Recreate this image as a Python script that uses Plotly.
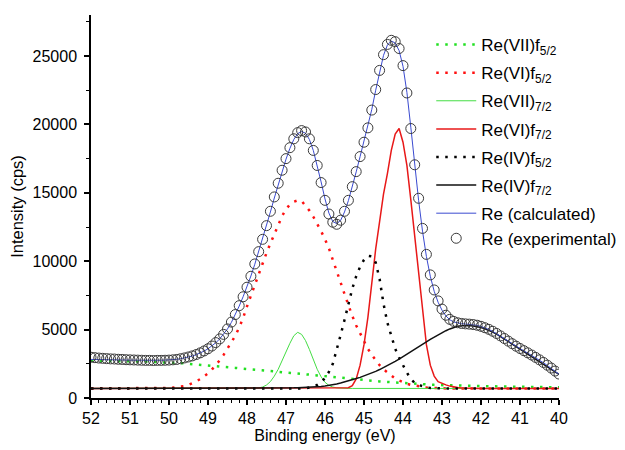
import plotly.graph_objects as go

# Binding energy grid (eV), 52.0 -> 40.0 in 0.1 eV steps
energy = [
    52.0, 51.9, 51.8, 51.7, 51.6, 51.5, 51.4, 51.3, 51.2, 51.1,
    51.0, 50.9, 50.8, 50.7, 50.6, 50.5, 50.4, 50.3, 50.2, 50.1,
    50.0, 49.9, 49.8, 49.7, 49.6, 49.5, 49.4, 49.3, 49.2, 49.1,
    49.0, 48.9, 48.8, 48.7, 48.6, 48.5, 48.4, 48.3, 48.2, 48.1,
    48.0, 47.9, 47.8, 47.7, 47.6, 47.5, 47.4, 47.3, 47.2, 47.1,
    47.0, 46.9, 46.8, 46.7, 46.6, 46.5, 46.4, 46.3, 46.2, 46.1,
    46.0, 45.9, 45.8, 45.7, 45.6, 45.5, 45.4, 45.3, 45.2, 45.1,
    45.0, 44.9, 44.8, 44.7, 44.6, 44.5, 44.4, 44.3, 44.2, 44.1,
    44.0, 43.9, 43.8, 43.7, 43.6, 43.5, 43.4, 43.3, 43.2, 43.1,
    43.0, 42.9, 42.8, 42.7, 42.6, 42.5, 42.4, 42.3, 42.2, 42.1,
    42.0, 41.9, 41.8, 41.7, 41.6, 41.5, 41.4, 41.3, 41.2, 41.1,
    41.0, 40.9, 40.8, 40.7, 40.6, 40.5, 40.4, 40.3, 40.2, 40.1,
    40.0,
]

re_experimental = [
    2980, 2950, 2920, 2900, 2880, 2860, 2850, 2830, 2820, 2800,
    2790, 2780, 2770, 2760, 2750, 2750, 2740, 2750, 2750, 2760,
    2770, 2790, 2820, 2870, 2930, 3000, 3080, 3180, 3300, 3440,
    3600, 3800, 4050, 4320, 4650, 5050, 5550, 6100, 6750, 7400,
    8100, 8900, 9800, 10700, 11600, 12600, 13650, 14700, 15700, 16650,
    17500, 18300, 18950, 19400, 19550, 19450, 18950, 18100, 17000, 15750,
    14450, 13450, 12850, 12700, 13000, 13650, 14450, 15450, 16550, 17650,
    18700, 19750, 21050, 22550, 23950, 25100, 25850, 26150, 26050, 25550,
    24300, 22300, 19700, 17050, 14600, 12400, 10500, 9000, 7900, 7100,
    6500, 6050, 5750, 5600, 5500, 5450, 5420, 5400, 5370, 5320,
    5240, 5140, 5020, 4880, 4720, 4540, 4350, 4160, 3970, 3790,
    3620, 3460, 3300, 3140, 2970, 2790, 2600, 2400, 2190, 1970,
    1750,
]

re_calculated = [
    2820, 2810, 2800, 2800, 2790, 2790, 2780, 2780, 2770, 2770,
    2770, 2760, 2760, 2760, 2750, 2750, 2750, 2750, 2760, 2770,
    2780, 2800, 2830, 2870, 2920, 2990, 3070, 3170, 3290, 3430,
    3600, 3800, 4040, 4320, 4650, 5050, 5530, 6080, 6720, 7400,
    8130, 8920, 9780, 10690, 11630, 12600, 13600, 14620, 15620, 16580,
    17460, 18250, 18900, 19330, 19480, 19360, 18900, 18100, 17050, 15800,
    14550, 13520, 12900, 12750, 12980, 13600, 14430, 15430, 16530, 17650,
    18750, 19850, 21100, 22500, 23900, 25050, 25800, 26100, 25950, 25400,
    24250, 22350, 19800, 17050, 14450, 12200, 10350, 8900, 7800, 7000,
    6420, 6000, 5720, 5560, 5470, 5430, 5410, 5390, 5360, 5310,
    5230, 5130, 5010, 4870, 4710, 4530, 4340, 4150, 3960, 3780,
    3600, 3440, 3280, 3120, 2950, 2770, 2580, 2380, 2170, 1950,
    1730,
]

re7_f52 = [
    2720, 2720, 2710, 2710, 2700, 2700, 2700, 2690, 2690, 2680,
    2680, 2680, 2670, 2670, 2660, 2650, 2650, 2640, 2630, 2620,
    2600, 2590, 2570, 2550, 2530, 2500, 2480, 2450, 2420, 2390,
    2360, 2340, 2320, 2290, 2270, 2250, 2230, 2200, 2170, 2150,
    2120, 2100, 2070, 2040, 2020, 1990, 1970, 1940, 1920, 1890,
    1870, 1850, 1820, 1800, 1770, 1740, 1710, 1680, 1650, 1620,
    1580, 1550, 1520, 1490, 1460, 1430, 1400, 1380, 1350, 1330,
    1310, 1290, 1260, 1240, 1210, 1190, 1170, 1140, 1120, 1090,
    1070, 1050, 1040, 1020, 1010, 990, 980, 970, 960, 950,
    940, 930, 930, 920, 910, 900, 900, 890, 890, 880,
    870, 870, 860, 860, 850, 840, 840, 830, 830, 820,
    820, 820, 810, 810, 810, 800, 800, 790, 790, 790,
    780,
]

re6_f52 = [
    700, 700, 700, 700, 700, 700, 700, 700, 700, 700,
    700, 700, 700, 700, 700, 700, 700, 700, 710, 720,
    740, 760, 790, 830, 880, 960, 1080, 1220, 1380, 1560,
    1800, 2080, 2400, 2750, 3150, 3600, 4050, 4550, 5150, 5850,
    6700, 7500, 8300, 9000, 9800, 10600, 11300, 12000, 12700, 13300,
    13800, 14150, 14350, 14450, 14400, 14050, 13700, 13250, 12750, 12200,
    11600, 10950, 10100, 9200, 8450, 7600, 6750, 6000, 5300, 4700,
    4150, 3600, 3150, 2750, 2400, 2100, 1850, 1600, 1420, 1280,
    1150, 1040, 960, 900, 850, 800, 770, 740, 720, 710,
    700, 700, 700, 700, 700, 700, 700, 700, 700, 700,
    700, 700, 700, 700, 700, 700, 700, 700, 700, 700,
    700, 700, 700, 700, 700, 700, 700, 700, 700, 700,
    700,
]

re7_72 = [
    700, 700, 700, 700, 700, 700, 700, 700, 700, 700,
    700, 700, 700, 700, 700, 700, 700, 700, 700, 700,
    700, 700, 700, 700, 700, 700, 700, 700, 700, 700,
    700, 700, 700, 700, 700, 700, 700, 700, 700, 700,
    700, 705, 720, 740, 800, 950, 1200, 1600, 2100, 2750,
    3400, 4000, 4550, 4800, 4650, 4200, 3550, 2800, 2100, 1550,
    1150, 920, 800, 740, 715, 705, 700, 700, 700, 700,
    700, 700, 700, 700, 700, 700, 700, 700, 700, 700,
    700, 700, 700, 700, 700, 700, 700, 700, 700, 700,
    700, 700, 700, 700, 700, 700, 700, 700, 700, 700,
    700, 700, 700, 700, 700, 700, 700, 700, 700, 700,
    700, 700, 700, 700, 700, 700, 700, 700, 700, 700,
    700,
]

re6_f72 = [
    700, 700, 700, 700, 700, 700, 700, 700, 700, 700,
    700, 700, 700, 700, 700, 700, 700, 700, 700, 700,
    700, 700, 700, 700, 700, 700, 700, 700, 700, 700,
    700, 700, 700, 700, 700, 700, 700, 700, 700, 700,
    700, 700, 700, 700, 700, 700, 700, 700, 700, 700,
    700, 700, 700, 700, 700, 700, 700, 700, 700, 700,
    700, 700, 700, 700, 700, 710, 750, 900, 1400, 2400,
    3900, 5900, 8400, 10900, 12900, 14900, 16400, 18100, 19300, 19700,
    18700, 17000, 14500, 11900, 9200, 6200, 3900, 2400, 1600, 1200,
    1050, 960, 870, 800, 760, 730, 715, 705, 700, 700,
    700, 700, 700, 700, 700, 700, 700, 700, 700, 700,
    700, 700, 700, 700, 700, 700, 700, 700, 700, 700,
    700,
]

re4_f52 = [
    700, 700, 700, 700, 700, 700, 700, 700, 700, 700,
    700, 700, 700, 700, 700, 700, 700, 700, 700, 700,
    700, 700, 700, 700, 700, 700, 700, 700, 700, 700,
    700, 700, 700, 700, 700, 700, 700, 700, 700, 700,
    700, 700, 700, 700, 700, 700, 700, 700, 700, 700,
    700, 700, 700, 700, 700, 700, 770, 830, 950, 1150,
    1450, 1900, 2500, 3500, 4600, 5700, 6900, 8000, 8900, 9600,
    10100, 10400, 10350, 9900, 8700, 6900, 5500, 4450, 3600, 2950,
    2350, 1850, 1400, 1100, 950, 850, 780, 740, 720, 705,
    700, 700, 700, 700, 700, 700, 700, 700, 700, 700,
    700, 700, 700, 700, 700, 700, 700, 700, 700, 700,
    700, 700, 700, 700, 700, 700, 700, 700, 700, 700,
    700,
]

re4_f72 = [
    700, 700, 700, 700, 700, 700, 700, 700, 700, 700,
    700, 700, 700, 700, 700, 700, 700, 700, 700, 700,
    700, 700, 700, 700, 700, 700, 700, 700, 700, 700,
    700, 700, 700, 700, 700, 700, 700, 700, 700, 700,
    700, 702, 704, 706, 708, 710, 713, 716, 720, 725,
    730, 737, 745, 755, 765, 778, 792, 808, 826, 846,
    880, 920, 970, 1030, 1100, 1170, 1250, 1330, 1420, 1510,
    1610, 1720, 1830, 1950, 2080, 2220, 2370, 2520, 2680, 2850,
    3020, 3200, 3380, 3560, 3740, 3920, 4100, 4280, 4450, 4620,
    4780, 4920, 5050, 5160, 5240, 5290, 5310, 5300, 5270, 5220,
    5150, 5060, 4950, 4820, 4670, 4500, 4320, 4130, 3940, 3750,
    3560, 3380, 3200, 3020, 2840, 2660, 2480, 2300, 2110, 1920,
    1720,
]

x_ticks = [52, 51, 50, 49, 48, 47, 46, 45, 44, 43, 42, 41, 40]
y_ticks = [0, 5000, 10000, 15000, 20000, 25000]

FONT = "Liberation Sans, Arial, sans-serif"
DOT = "2.5px,6.5px"

fig = go.Figure()

series = [
    ("Re(VII)f<sub>5/2</sub>", re7_f52, dict(color="#22e022", width=2.5, dash=DOT), "0"),
    ("Re(VI)f<sub>5/2</sub>", re6_f52, dict(color="#ff1010", width=2.5, dash=DOT), "1"),
    ("Re(VII)<sub>7/2</sub>", re7_72, dict(color="#44dd44", width=1), "2"),
    ("Re(VI)f<sub>7/2</sub>", re6_f72, dict(color="#e81818", width=1.5), "3"),
    ("Re(IV)f<sub>5/2</sub>", re4_f52, dict(color="#000000", width=2.5, dash=DOT), "4"),
    ("Re(IV)f<sub>7/2</sub>", re4_f72, dict(color="#111111", width=1.5), "5"),
    ("Re (calculated)", re_calculated, dict(color="#3a4ad0", width=1), "6"),
]
for name, ys, line, grp in series:
    fig.add_trace(go.Scatter(x=energy, y=ys, mode="lines", name=name, line=line,
                             legendgroup=grp))

fig.add_trace(go.Scatter(
    x=energy, y=re_experimental, mode="markers", name="Re (experimental)",
    legendgroup="6",
    marker=dict(symbol="circle-open", size=10, color="#3a3a3a", line=dict(width=1, color="#3a3a3a")),
))

# page body has an 8px default margin, so the figure is sized to fit 625x450
fig.update_layout(
    width=617, height=442,
    margin=dict(l=83, r=66, t=7, b=52, autoexpand=False),
    paper_bgcolor="white", plot_bgcolor="white",
    font=dict(family=FONT, size=16, color="black"),
    showlegend=True,
    legend=dict(
        x=0.727, y=0.9686, xanchor="left", yanchor="top",
        bgcolor="rgba(0,0,0,0)", borderwidth=0,
        font=dict(family=FONT, size=17, color="black"),
        traceorder="grouped", tracegroupgap=3, itemwidth=40,
    ),
)

fig.update_xaxes(
    range=[52, 40], tickvals=x_ticks, ticktext=[str(v) for v in x_ticks],
    ticks="outside", ticklen=5, tickwidth=1.5, tickcolor="black",
    showline=True, linecolor="black", linewidth=1.5,
    showgrid=False, zeroline=False, mirror=False, automargin=False,
    minor=dict(dtick=0.2, tick0=40, ticks="outside", ticklen=3, tickwidth=1, tickcolor="black", showgrid=False),
    title=dict(text="Binding energy (eV)", font=dict(family=FONT, size=16), standoff=4),
    tickfont=dict(family=FONT, size=16),
)
fig.update_yaxes(
    range=[0, 28000], tickvals=y_ticks, ticktext=[str(v) for v in y_ticks],
    ticks="outside", ticklen=5, tickwidth=1.5, tickcolor="black",
    showline=True, linecolor="black", linewidth=1.5,
    showgrid=False, zeroline=False, mirror=False, automargin=False,
    minor=dict(dtick=2500, tick0=0, ticks="outside", ticklen=3, tickwidth=1, tickcolor="black", showgrid=False),
    title=dict(text="Intensity (cps)", font=dict(family=FONT, size=16.5), standoff=15),
    tickfont=dict(family=FONT, size=16), ticklabelstandoff=4,
)

fig.write_html("out.html")
